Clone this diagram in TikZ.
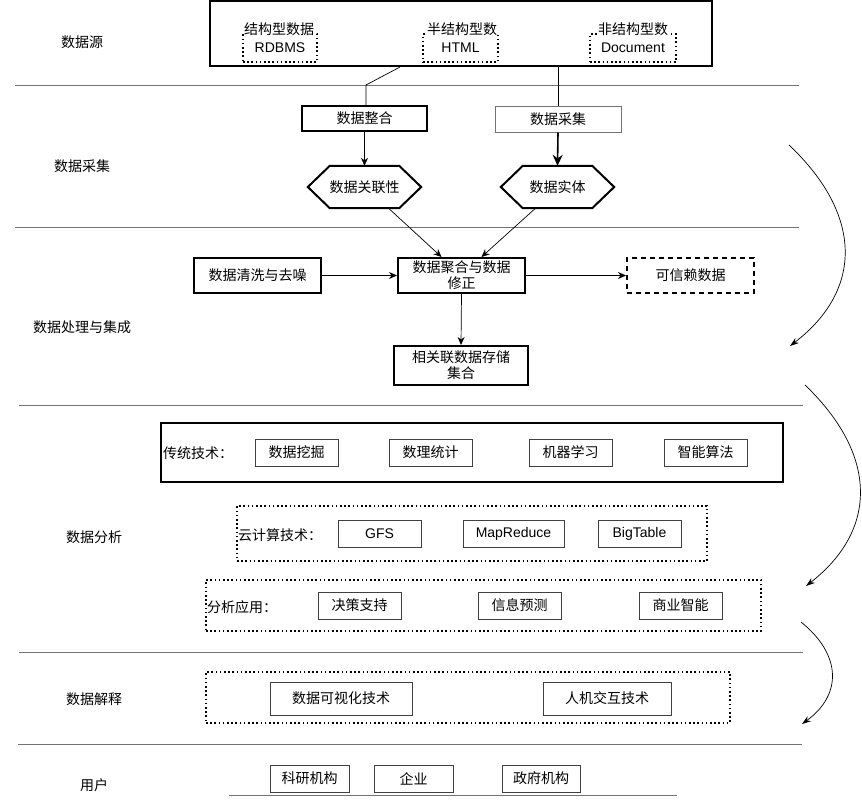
\documentclass[tikz,border=0pt]{standalone}
\usepackage{fontspec}
\setmainfont{Noto Sans CJK SC}
\newfontfamily\latin{Liberation Sans}
\usetikzlibrary{arrows.meta}

\tikzset{
  every node/.style={font=\fontsize{14}{16}\selectfont, inner sep=0pt},
  latin/.style={font=\latin\fontsize{14}{16}\selectfont},
  thickbox/.style={draw, line width=2pt, align=center},
  thinbox/.style={draw=black!75, line width=1pt, align=center},
  dotbox/.style={draw, line width=1.6pt, dash pattern=on 1.6pt off 2.6pt},
  dashbox/.style={draw, line width=2pt, dash pattern=on 5pt off 4pt},
  sepline/.style={black!55, line width=1pt},
  arr/.style={-{Stealth[length=8pt,width=7pt]}, line width=0.7pt},
  bigarr/.style={-{Stealth[length=11pt,width=10pt]}, line width=1.6pt},
  turn/.style={-{Stealth[length=9pt,width=6pt]}, line width=0.7pt},
}

\begin{document}
\begin{tikzpicture}[x=1pt,y=-1pt]
  \useasboundingbox (0,0) rectangle (862,806);

  % layer separators
  \foreach \y/\a/\b in {85/15/799, 227/15/799, 405/19/803, 652/19/803, 744/18/802, 795/229/677}
    \draw[sepline] (\a,\y) -- (\b,\y);

  % layer names
  \node (lsrc) at (82,42) {数据源};
  \node (lcol) at (82,166) {数据采集};
  \node (lproc) at (82,327) {数据处理与集成};
  \node (lana) at (94,537) {数据分析};
  \node (lexp) at (94,699) {数据解释};
  \node (luser) at (94,785) {用户};

  % data sources
  \node[thickbox, minimum width=502pt, minimum height=65pt] (src) at (461,33.5) {};
  \node[dotbox, latin, minimum width=74pt, minimum height=28pt] (rdbms) at (280,48) {RDBMS};
  \node[dotbox, latin, minimum width=75pt, minimum height=28pt] (html) at (460.5,48) {HTML};
  \node[dotbox, latin, minimum width=86pt, minimum height=28pt] (doc) at (633,48) {Document};
  \node[fill=white] (t1) at (279,29) {结构型数据};
  \node[fill=white] (t2) at (462,29) {半结构型数};
  \node[fill=white] (t3) at (633,29) {非结构型数};

  % collection
  \node[thickbox, minimum width=125pt, minimum height=25pt] (merge) at (364.5,118.5) {数据整合};
  \node[thinbox, draw=black!55, minimum width=126pt, minimum height=26pt] (gather) at (558,119) {数据采集};
  \node[minimum width=113pt, minimum height=42pt] (rel) at (364.5,187) {数据关联性};
  \node[minimum width=113pt, minimum height=42pt] (ent) at (557.5,187) {数据实体};
  \foreach \h in {rel,ent}
    \draw[line width=2pt, line join=miter] (\h.west) -- ([xshift=22pt]\h.north west) -- ([xshift=-22pt]\h.north east)
      -- (\h.east) -- ([xshift=-22pt]\h.south east) -- ([xshift=22pt]\h.south west) -- cycle;

  \coordinate (bend) at (366,85);
  \draw[line width=0.7pt] ([xshift=-61pt]src.south) -- (bend) -- (bend |- merge.north);
  \draw[line width=0.7pt] (src.south -| gather.north) -- (gather.north);
  \draw[arr] (merge.south) -- (rel.north);
  \draw[bigarr] (gather.south) -- (ent.north);

  % processing
  \node[thickbox, minimum width=127pt, minimum height=35pt] (clean) at (257.5,275.5) {数据清洗与去噪};
  \node[thickbox, minimum width=127pt, minimum height=35pt] (agg) at (461.5,275.5) {数据聚合与数据\\修正};
  \node[dashbox, minimum width=127pt, minimum height=35pt] (trust) at (690.5,275.5) {可信赖数据};
  \node[thickbox, minimum width=134pt, minimum height=39pt] (store) at (461,365.5) {相关联数据存储\\集合};

  \draw[arr] ([xshift=24pt]rel.south) -- ([xshift=-20pt]agg.north);
  \draw[arr] ([xshift=-22pt]ent.south) -- ([xshift=20pt]agg.north);
  \draw[arr] (clean.east) -- (agg.west);
  \draw[arr] (agg.east) -- (trust.west);
  \draw[arr] (agg.south) -- (store.north);

  % analysis
  \node[thickbox, minimum width=622pt, minimum height=59pt] (trad) at (472,452.5) {};
  \node[anchor=west] (tradl) at (163,453) {传统技术：};
  \foreach \x/\t [count=\i] in {296.5/数据挖掘, 430.5/数理统计, 570.5/机器学习, 705.5/智能算法}
    \node[thinbox, minimum width=83pt, minimum height=27pt] (trad\i) at (\x,452.5) {\t};

  \node[dotbox, minimum width=470pt, minimum height=55pt] (cloud) at (472,533.5) {};
  \node[anchor=west] (cloudl) at (238,535) {云计算技术：};
  \node[thinbox, latin, minimum width=83pt, minimum height=27pt] (gfs) at (379.5,533.5) {GFS};
  \node[thinbox, latin, minimum width=101pt, minimum height=27pt] (mr) at (513.5,533.5) {MapReduce};
  \node[thinbox, latin, minimum width=83pt, minimum height=27pt] (bt) at (639.5,533.5) {BigTable};

  \node[dotbox, minimum width=555pt, minimum height=51pt] (app) at (483.5,605.5) {};
  \node[anchor=west] (appl) at (207,607) {分析应用：};
  \foreach \x/\t [count=\i] in {359.5/决策支持, 519.5/信息预测, 680.5/商业智能}
    \node[thinbox, minimum width=83pt, minimum height=27pt] (app\i) at (\x,605.5) {\t};

  % interpretation
  \node[dotbox, minimum width=524pt, minimum height=51pt] (expl) at (468,697.5) {};
  \node[thinbox, minimum width=142pt, minimum height=33pt] (vis) at (341,698.5) {数据可视化技术};
  \node[thinbox, minimum width=128pt, minimum height=33pt] (hci) at (607,698.5) {人机交互技术};

  % users
  \foreach \x/\w/\t [count=\i] in {309.5/79/科研机构, 413.5/79/企业, 541/78/政府机构}
    \node[thinbox, minimum width=\w pt, minimum height=27pt] (user\i) at (\x,778.5) {\t};

  % flow arrows on the right
  \coordinate (c1a) at (789,145);
  \coordinate (c1b) at (790,346);
  \coordinate (c2a) at (805,385);
  \coordinate (c2b) at (806,586);
  \coordinate (c3a) at (801,622);
  \coordinate (c3b) at (802,724);
  \draw[turn] (c1a) .. controls (863,215) and (863,290) .. (c1b);
  \draw[turn] (c2a) .. controls (878,455) and (878,530) .. (c2b);
  \draw[turn] (c3a) .. controls (842,655) and (842,695) .. (c3b);
\end{tikzpicture}
\end{document}
